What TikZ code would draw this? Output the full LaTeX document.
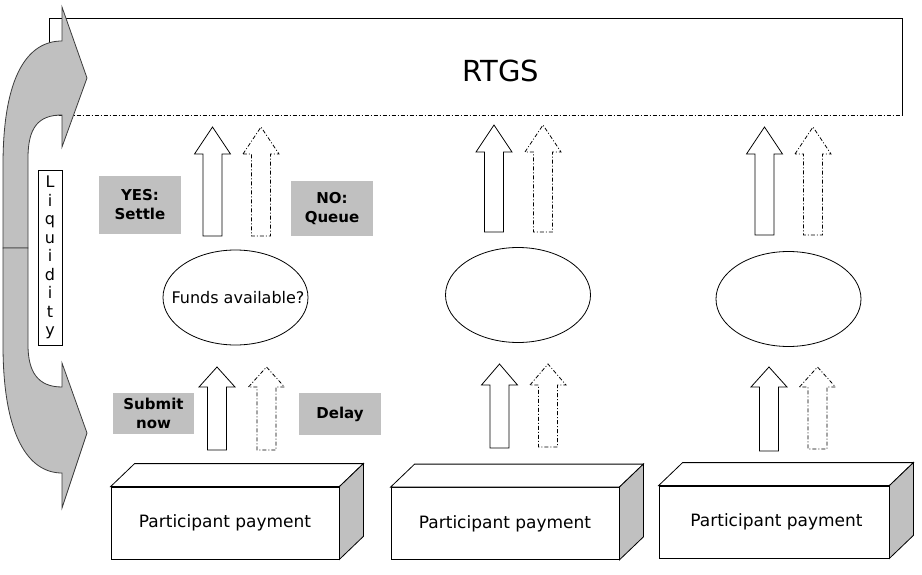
\documentclass[tikz,border=0pt]{standalone}
\usepackage{fontspec}
\setmainfont{DejaVu Sans}
\usepackage{xcolor}
\usetikzlibrary{positioning,shapes.geometric}
\definecolor{liqgray}{RGB}{192,192,192}
\definecolor{edgegray}{RGB}{60,60,60}
% block arrow pointing up: [style]{centre x}{tip y}{head base y}{bottom y}
\newcommand{\blkup}[5][]{%
  \draw[blk,#1] (#2-18,#4) -- (#2,#3) -- (#2+18,#4) -- (#2+9.5,#4)
    -- (#2+9.5,#5) -- (#2-9.5,#5) -- (#2-9.5,#4) -- cycle;}

\begin{document}
\begin{tikzpicture}[
  x=1pt, y=-1pt,
  line width=0.8pt,
  blk/.style={draw, fill=white},
  blkdash/.style={dash pattern=on 4pt off 2pt on 1pt off 2pt},
  oval/.style={draw, ellipse, minimum width=145, minimum height=95, inner sep=0pt},
  glabel/.style={fill=liqgray, align=center, inner sep=0pt, font=\bfseries\fontsize{15}{19}\selectfont},
  pbox/.style={draw, fill=white, minimum height=72, inner sep=0pt, font=\fontsize{17}{20}\selectfont},
  liqarrow/.style={draw=edgegray, fill=liqgray}
]
\useasboundingbox (0,0) rectangle (922,575);

% RTGS layer
\node[minimum width=852, minimum height=96, inner sep=0pt] (rtgs) at (476,67) {};
\fill[white] (rtgs.south west) rectangle (rtgs.north east);
\draw (rtgs.south west) -- (rtgs.north west) -- (rtgs.north east) -- (rtgs.south east);
\draw[blkdash] (rtgs.south west) -- (rtgs.south east);
\node[font=\fontsize{29}{34}\selectfont] (rtgstxt) at (501,71) {RTGS};

% Liquidity arrow
\draw[liqarrow] (3,248) -- (3,165) .. controls (3,75) and (28,41) .. (62,41) -- (62,7) -- (87,78)
  -- (62,147) -- (62,115) .. controls (38,115) and (28,128) .. (28,158) -- (28,248) -- cycle;
\draw[liqarrow] (3,248) -- (3,345) .. controls (3,435) and (28,473) .. (62,473) -- (62,508) -- (87,433)
  -- (62,363) -- (62,387) .. controls (38,387) and (28,372) .. (28,345) -- (28,248) -- cycle;
\node[draw, fill=white, minimum width=24, minimum height=175, inner sep=0pt, align=center,
  font=\fontsize{16}{18.5}\selectfont] (liq) at (50,257.5) {L\\i\\q\\u\\i\\d\\i\\t\\y};

% Decisions
\node[oval] (q1) at (235.5,297.5) {};
\node[font=\fontsize{16}{19}\selectfont] (q1txt) at (238,297.5) {Funds available?};
\node[oval] (q2) at (518,295) {};
\node[oval] (q3) at (788.5,299) {};

\node[glabel, minimum width=82, minimum height=58] (yes) at (140,205) {YES:\\Settle};
\node[glabel, minimum width=82, minimum height=55] (no) at (332,208.5) {NO:\\Queue};
\node[glabel, minimum width=81, minimum height=41] (submit) at (153.5,413.5) {Submit\\now};
\node[glabel, minimum width=82, minimum height=42] (delay) at (340,414) {Delay};

% Participant payments
\node[pbox, minimum width=228] (p1) at (225,523) {Participant payment};
\node[pbox, minimum width=228] (p2) at (505,523.5) {Participant payment\hspace{10pt}};
\node[pbox, minimum width=230] (p3) at (774,522) {\hspace{5pt}Participant payment};
\foreach \p in {p1,p2,p3} {
  \draw[fill=white] (\p.north west) -- ([shift={(24,-23)}]\p.north west)
    -- ([shift={(24,-23)}]\p.north east) -- (\p.north east) -- cycle;
  \draw[fill=liqgray] (\p.north east) -- ([shift={(24,-23)}]\p.north east)
    -- ([shift={(24,-23)}]\p.south east) -- (\p.south east) -- cycle;
}

% Arrows into RTGS
\blkup{212.5}{127}{154}{236}
\blkup[blkdash]{261}{127}{154}{236}
\blkup{494}{125}{152}{232}
\blkup[blkdash]{543}{125}{152}{232}
\blkup{764.5}{127}{154}{235}
\blkup[blkdash]{813}{127}{154}{235}

% Arrows from participants
\blkup{217}{367}{387}{450}
\blkup[blkdash]{266.5}{367}{387}{450}
\blkup{499.5}{364}{385}{448}
\blkup[blkdash]{548}{364}{385}{447}
\blkup{769}{367}{387}{451}
\blkup[blkdash]{817.5}{367}{387}{449}
\end{tikzpicture}
\end{document}
